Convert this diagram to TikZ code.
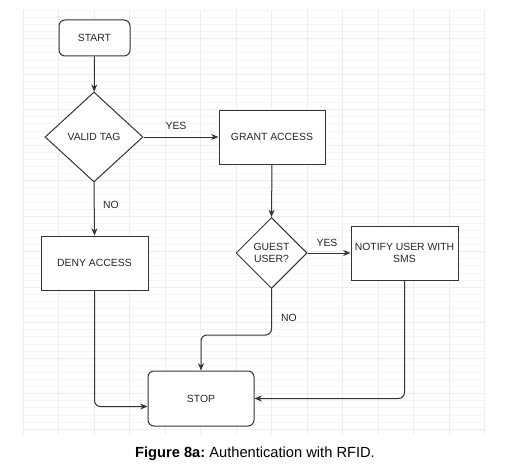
\documentclass[tikz,border=0pt]{standalone}
\usepackage{fontspec}
\setmainfont{Liberation Sans}
\usetikzlibrary{shapes.geometric,arrows.meta,calc}
\begin{document}
\begin{tikzpicture}[x=0.75pt,y=-0.75pt,
  every node/.style={font=\fontsize{7.8}{9.5}\selectfont, text=black!85},
  shp/.style={draw=black!80, line width=0.75pt, fill=white, inner sep=0pt, align=center},
  rbox/.style={shp, rectangle, rounded corners=4.5pt},
  pbox/.style={shp, rectangle},
  dbox/.style={shp, diamond},
  arr/.style={draw=black!80, line width=0.75pt, -{Stealth[length=5.5pt,width=4.5pt]}, rounded corners=4.5pt},
  lbl/.style={inner sep=0pt}
]
\useasboundingbox (0,0) rectangle (510,467);
% faint grid
\begin{scope}
\clip (22,10) rectangle (485,435);
\foreach \i in {0,...,60} \draw[black!4, line width=0.4pt] (22,{3+7.1*\i}) -- (485,{3+7.1*\i});
\foreach \i in {0,...,13} \draw[black!7, line width=0.5pt] ({23.2+35.5*\i},10) -- ({23.2+35.5*\i},435);
\foreach \i in {0,...,12} \draw[black!7, line width=0.5pt] (22,{3+35.5*\i}) -- (485,{3+35.5*\i});
\end{scope}

\node[rbox, minimum width=53.25pt, minimum height=27pt] (start) at (94.5,38) {START};
\node[dbox, minimum width=73.5pt, minimum height=67.5pt] (valid) at (94,137) {VALID TAG};
\node[pbox, minimum width=79.5pt, minimum height=40.5pt] (grant) at (272,137) {GRANT ACCESS};
\node[pbox, minimum width=80.25pt, minimum height=40.5pt] (deny) at (94.5,263) {DENY ACCESS};
\node[dbox, minimum width=53.25pt, minimum height=53.25pt] (guest) at (271.5,253) {GUEST\\USER?};
\node[pbox, minimum width=80.25pt, minimum height=40.5pt] (notify) at (404.5,253) {NOTIFY USER WITH\\SMS};
\node[rbox, minimum width=79.5pt, minimum height=41.25pt] (stop) at (201,398.5) {STOP};

\draw[arr] (start) -- (valid);
\draw[arr] (valid.east) -- (grant.west);
\node[lbl] (yes1) at (176,126) {YES};
\draw[arr] (valid.south) -- (deny.north);
\node[lbl] (no1) at (111,205) {NO};
\draw[arr] (grant.south) -- (guest.north);
\draw[arr] (guest.east) -- (notify.west);
\node[lbl] (yes2) at (327,243) {YES};
\draw[arr] (guest.south) -- ++(0,46) -| (stop.north);
\node[lbl] (no2) at (289,318) {NO};
\draw[arr] (deny.south) |- ($(stop.west)+(0,8)$);
\draw[arr] (notify.south) |- (stop.east);

\node[font=\fontsize{11}{13}\selectfont, text=black] (cap) at (255,454) {\textbf{Figure 8a:}~Authentication with RFID.};
\end{tikzpicture}
\end{document}
